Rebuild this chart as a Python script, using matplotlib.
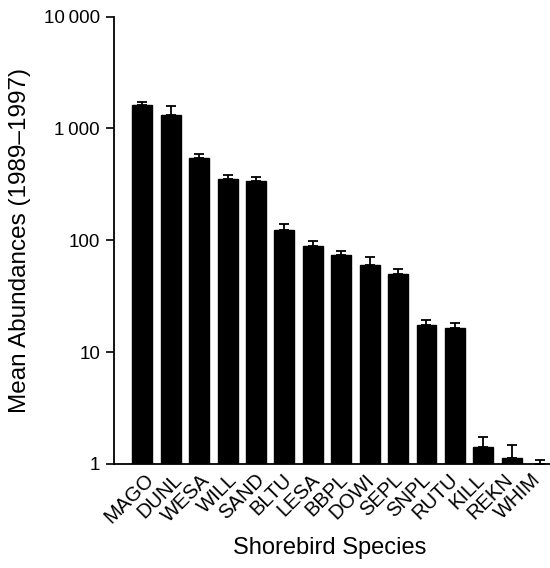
import numpy as np
import matplotlib
matplotlib.use("Agg")
import matplotlib.pyplot as plt
import matplotlib.transforms as mtransforms

plt.rcParams['font.family'] = ['Liberation Sans', 'DejaVu Sans']

species = ['MAGO', 'DUNL', 'WESA', 'WILL', 'SAND', 'BLTU', 'LESA', 'BBPL',
           'DOWI', 'SEPL', 'SNPL', 'RUTU', 'KILL', 'REKN', 'WHIM']
means = [1620, 1310, 545, 356, 336, 124, 88, 74, 60, 50, 17.5, 16.4, 1.41, 1.12, 1.0]
errs = [110, 270, 45, 25, 33, 15, 10, 5.5, 11, 5, 1.7, 1.9, 0.32, 0.36, 0.09]
yticks = [1, 10, 100, 1000, 10000]
yticklabels = ['1', '10', '100', '1\u2009000', '10\u2009000']

fig = plt.figure(figsize=(5.5, 5.68), dpi=100)
ax = fig.add_axes([114 / 550, 104 / 568, 1 - 114 / 550, (464 - 16.5) / 568])

x = np.arange(len(species))
ax.bar(x, means, width=0.7, color='black', edgecolor='black')
ax.errorbar(x, means, yerr=[np.zeros(len(errs)), errs], fmt='none',
            ecolor='black', elinewidth=1.3, capsize=3.5, capthick=1.3)

ax.set_yscale('log')
ax.set_ylim(1, 10000)
ax.set_xlim(-1, 14.35)
ax.set_yticks(yticks)
ax.set_yticklabels(yticklabels)
ax.yaxis.set_minor_locator(matplotlib.ticker.NullLocator())
ax.tick_params(axis='y', direction='out', length=6, width=1.2, labelsize=13.5, pad=4)
ax.tick_params(axis='x', length=0, labelsize=14.5, pad=5)

ax.set_xticks(x)
ax.set_xticklabels(species, rotation=45, ha='right', rotation_mode='anchor', va='center')
# labels drift slightly leftwards across the axis in the original
n = len(species)
for i, lbl in enumerate(ax.get_xticklabels()):
    dx = (9 - 12 * i / (n - 1)) / 100
    offset = mtransforms.ScaledTranslation(dx, -6 / 100, fig.dpi_scale_trans)
    lbl.set_transform(lbl.get_transform() + offset)

for s in ['top', 'right']:
    ax.spines[s].set_visible(False)
ax.spines['left'].set_linewidth(1.3)
ax.spines['bottom'].set_linewidth(1.3)

ax.set_ylabel('Mean Abundances (1989–1997)', fontsize=17.5, labelpad=9)
fig.text(330 / 550, 1 - 548 / 568, 'Shorebird Species', fontsize=17,
         ha='center', va='center')

fig.savefig('out.png', dpi=100)
